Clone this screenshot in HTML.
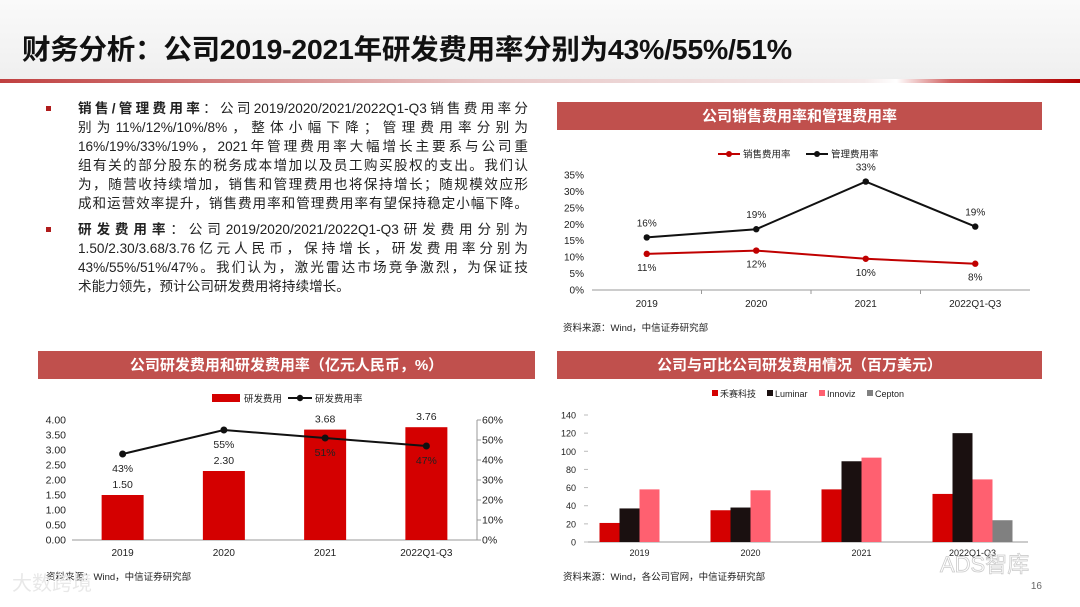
<!DOCTYPE html>
<html><head><meta charset="utf-8">
<style>
body{margin:0;width:1080px;height:607px;background:#fff;overflow:hidden;font-family:"Liberation Sans","Noto Sans CJK SC",sans-serif;}
svg text{font-family:"Liberation Sans","Noto Sans CJK SC",sans-serif;}
.p{position:absolute;left:78px;width:450px;font-size:13.6px;line-height:19px;color:#222;margin:0;}
.p div{text-align:justify;text-align-last:justify;white-space:nowrap;height:19px;}
.p div.l{text-align-last:left;}
.b{position:absolute;left:46px;width:5px;height:5px;background:#b01c1c;}
</style></head><body>
<div style="position:relative;width:1080px;height:607px">
<div style="position:absolute;left:0;top:0;width:1080px;height:80px;background:linear-gradient(#fafafa,#efefef)"></div>
<div style="position:absolute;left:0;top:79px;width:1080px;height:4px;background:linear-gradient(90deg,#c04040 0%,#e8c8c8 45%,#f4eaea 80%,#fff 83%,#d06060 88%,#b00000 100%)"></div>
<div style="position:absolute;left:22px;top:28px;font-size:28px;font-weight:bold;color:#111;letter-spacing:-0.3px;transform-origin:0 0;transform:scaleX(1.02)">财务分析：公司2019-2021年研发费用率分别为43%/55%/51%</div>
<div class="b" style="top:106px"></div>
<div class="p" style="top:99px">
<div><b>销售/管理费用率</b>：公司2019/2020/2021/2022Q1-Q3销售费用率分</div>
<div>别为11%/12%/10%/8%，整体小幅下降；管理费用率分别为</div>
<div>16%/19%/33%/19%，2021年管理费用率大幅增长主要系与公司重</div>
<div>组有关的部分股东的税务成本增加以及员工购买股权的支出。我们认</div>
<div>为，随营收持续增加，销售和管理费用也将保持增长；随规模效应形</div>
<div>成和运营效率提升，销售费用率和管理费用率有望保持稳定小幅下降。</div>
</div>
<div class="b" style="top:227px"></div>
<div class="p" style="top:220px">
<div><b>研发费用率</b>：公司2019/2020/2021/2022Q1-Q3研发费用分别为</div>
<div>1.50/2.30/3.68/3.76亿元人民币，保持增长，研发费用率分别为</div>
<div>43%/55%/51%/47%。我们认为，激光雷达市场竞争激烈，为保证技</div>
<div class="l">术能力领先，预计公司研发费用将持续增长。</div>
</div>
<svg id="s" width="1080" height="607" style="position:absolute;left:0;top:0"></svg>
</div>
<script>
// Chart 1: sales / admin expense ratio
const cats = ['2019','2020','2021','2022Q1-Q3'];
const salesRate = [11,12,9.5,8];
const salesLabels = ['11%','12%','10%','8%'];
const adminRate = [16,18.5,33,19.3];
const adminLabels = ['16%','19%','33%','19%'];
const c1Ticks = [0,5,10,15,20,25,30,35];
// Chart 2: R&D
const rdCost = [1.50,2.30,3.68,3.76];
const rdCostLabels = ['1.50','2.30','3.68','3.76'];
const rdRate = [43,55,51,47];
const rdRateLabels = ['43%','55%','51%','47%'];
const c2LeftTicks = [0,0.5,1,1.5,2,2.5,3,3.5,4];
const c2RightTicks = [0,10,20,30,40,50,60];
// Chart 3: peers
const peers = ['禾赛科技','Luminar','Innoviz','Cepton'];
const hesaiVals = [21,35,58,53];
const luminarVals = [37,38,89,120];
const innoviz = [58,57,93,69];
const cepton = [0,0,0,24];
const c3Ticks = [0,20,40,60,80,100,120,140];

const S=document.getElementById('s'),NS='http://www.w3.org/2000/svg';
function el(t,a,p){const e=document.createElementNS(NS,t);for(const k in a)e.setAttribute(k,a[k]);(p||S).appendChild(e);return e;}
function tx(x,y,s,a,p){const e=el('text',Object.assign({x:x,y:y,'font-size':10,fill:'#222','text-anchor':'middle'},a||{}),p);e.textContent=s;return e;}
function bar(x,y,w,h,t,name){const g=el('rect',{x:x,y:y,width:w,height:h,fill:'#c0504d'});tx(x+w/2,y+19,t,{fill:'#fff','font-size':15,'font-weight':'bold'});}
bar(557,102,485,28,'公司销售费用率和管理费用率','chart1-title');
bar(38,351,497,28,'公司研发费用和研发费用率（亿元人民币，%）','chart2-title');
bar(557,351,485,28,'公司与可比公司研发费用情况（百万美元）','chart3-title');

// ---- chart 1
(function(){
const g=el('g',{});
const x0=592,x1=1030,y0=290,y1=175;
const X=i=>x0+(x1-x0)*(i+0.5)/cats.length, Y=v=>y0-(y0-y1)*v/35;
el('line',{x1:x0,y1:y0,x2:x1,y2:y0,stroke:'#999'},g);
c1Ticks.forEach(t=>{const e=tx(584,Y(t)+3.5,t+'%',{'text-anchor':'end'},g);});
for(let i=1;i<cats.length;i++)el('line',{x1:x0+(x1-x0)*i/4,y1:y0,x2:x0+(x1-x0)*i/4,y2:y0+4,stroke:'#999'},g);
cats.forEach((c,i)=>tx(X(i),307,c,{},g));
[[salesRate,'#c00000',salesLabels,14],[adminRate,'#111',adminLabels,-11]].forEach(([d,col,lb,off],k)=>{
 const p=el('polyline',{points:d.map((v,i)=>X(i)+','+Y(v)).join(' '),fill:'none',stroke:col,'stroke-width':2},g);
 
 d.forEach((v,i)=>{el('circle',{cx:X(i),cy:Y(v),r:3.2,fill:col},g);tx(X(i),Y(v)+off+(off>0?3:0),lb[i],{},g);});
});
const lg=el('g',{},g);
el('line',{x1:718,y1:154,x2:740,y2:154,stroke:'#c00000','stroke-width':2},lg);el('circle',{cx:729,cy:154,r:3,fill:'#c00000'},lg);
tx(743,157.5,'销售费用率',{'text-anchor':'start','font-size':9.5},lg);
el('line',{x1:806,y1:154,x2:828,y2:154,stroke:'#111','stroke-width':2},lg);el('circle',{cx:817,cy:154,r:3,fill:'#111'},lg);
tx(831,157.5,'管理费用率',{'text-anchor':'start','font-size':9.5},lg);
tx(563,331,'资料来源：Wind，中信证券研究部',{'text-anchor':'start','font-size':9.5},g);
})();

// ---- chart 2
(function(){
const g=el('g',{});
const x0=72,x1=477,y0=540,y1=420;
const X=i=>x0+(x1-x0)*(i+0.5)/cats.length, YL=v=>y0-(y0-y1)*v/4, YR=v=>y0-(y0-y1)*v/60;
el('line',{x1:x0,y1:y0,x2:x1,y2:y0,stroke:'#999'},g);
el('line',{x1:x1,y1:y1,x2:x1,y2:y0,stroke:'#999'},g);
c2LeftTicks.forEach(t=>tx(66,YL(t)+3.5,t.toFixed(2),{'text-anchor':'end','font-size':10.5},g));
c2RightTicks.forEach(t=>{el('line',{x1:x1,y1:YR(t),x2:x1+4,y2:YR(t),stroke:'#999'},g);tx(482,YR(t)+3.5,t+'%',{'text-anchor':'start','font-size':10.5},g);});
cats.forEach((c,i)=>tx(X(i),556,c,{},g));
rdCost.forEach((v,i)=>{const r=el('rect',{x:X(i)-21,y:YL(v),width:42,height:y0-YL(v),fill:'#d40000'},g);
 
 tx(X(i),YL(v)-7,rdCostLabels[i],{'font-size':10.5},g);});
const p=el('polyline',{points:rdRate.map((v,i)=>X(i)+','+YR(v)).join(' '),fill:'none',stroke:'#111','stroke-width':2},g);

rdRate.forEach((v,i)=>{el('circle',{cx:X(i),cy:YR(v),r:3.5,fill:'#111'},g);tx(X(i),YR(v)+18,rdRateLabels[i],{'font-size':10.5},g);});
el('rect',{x:212,y:394,width:28,height:8,fill:'#d40000'},g);tx(244,402,'研发费用',{'text-anchor':'start','font-size':9.5},g);
el('line',{x1:288,y1:398,x2:312,y2:398,stroke:'#111','stroke-width':2},g);el('circle',{cx:300,cy:398,r:3.2,fill:'#111'},g);
tx(315,402,'研发费用率',{'text-anchor':'start','font-size':9.5},g);
tx(46,580,'资料来源：Wind，中信证券研究部',{'text-anchor':'start','font-size':9.5},g);
tx(12,590,'大数跨境',{'text-anchor':'start','font-size':20,fill:'#e8e8e8'},g);
})();

// ---- chart 3
(function(){
const g=el('g',{});
const x0=584,x1=1028,y0=542,y1=415;
const X=i=>x0+(x1-x0)*(i+0.5)/cats.length, Y=v=>y0-(y0-y1)*v/140;
el('line',{x1:x0,y1:y0,x2:x1,y2:y0,stroke:'#999'},g);
c3Ticks.forEach(t=>{el('line',{x1:x0,y1:Y(t),x2:x0+4,y2:Y(t),stroke:'#bbb'},g);tx(576,Y(t)+3.5,String(t),{'text-anchor':'end','font-size':9},g);});
cats.forEach((c,i)=>tx(X(i),556,c,{'font-size':9},g));
const series=[hesaiVals,luminarVals,innoviz,cepton],cols=['#d40000','#1a1010','#ff6070','#808080'];
series.forEach((d,k)=>d.forEach((v,i)=>{if(!v)return;const r=el('rect',{x:X(i)-40+20*k,y:Y(v),width:20,height:y0-Y(v),fill:cols[k]},g);
 }));
let lx=712;peers.forEach((n,k)=>{el('rect',{x:lx,y:390,width:6,height:6,fill:cols[k]},g);tx(lx+8,397,n,{'text-anchor':'start','font-size':9},g);lx+=[55,52,48,40][k];});
tx(563,580,'资料来源：Wind，各公司官网，中信证券研究部',{'text-anchor':'start','font-size':9.5},g);
tx(940,572,'ADS智库',{'text-anchor':'start','font-size':22,fill:'none',stroke:'#ccc','stroke-width':0.8},g);
tx(1042,589,'16',{'text-anchor':'end','font-size':10,fill:'#666'},g);
})();
</script>
</body></html>
